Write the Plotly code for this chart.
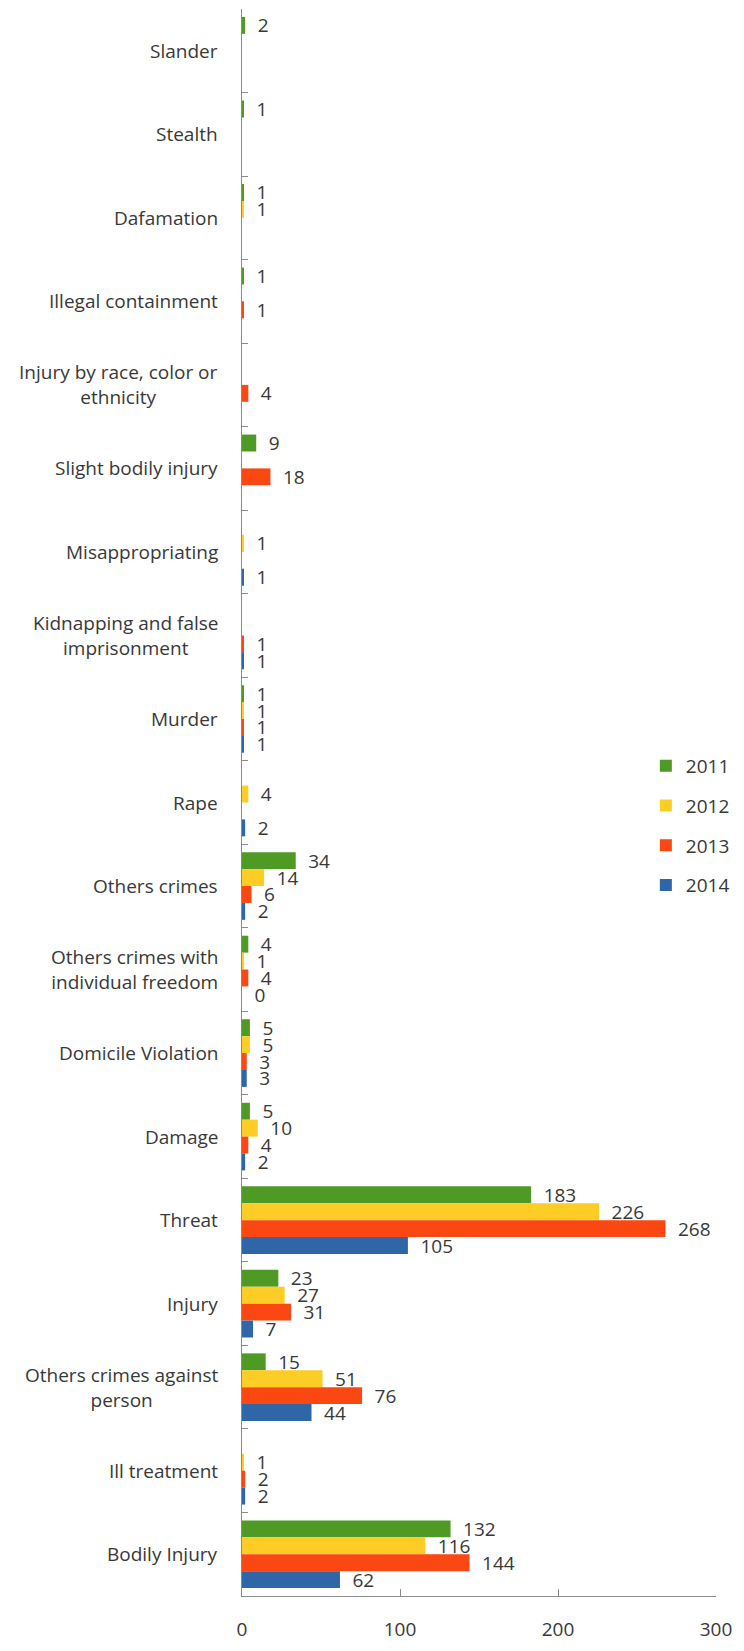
import plotly.graph_objects as go

# Offence categories, listed from the top of the chart to the bottom
categories = [
    "Slander",
    "Stealth",
    "Dafamation",
    "Illegal containment",
    "Injury by race, color or<br>ethnicity",
    "Slight bodily injury",
    "Misappropriating",
    "Kidnapping and false<br>imprisonment",
    "Murder",
    "Rape",
    "Others crimes",
    "Others crimes with<br>individual freedom",
    "Domicile Violation",
    "Damage",
    "Threat",
    "Injury",
    "Others crimes against<br>person",
    "Ill treatment",
    "Bodily Injury",
]

years = ["2011", "2012", "2013", "2014"]

# Number of cases per year (None = no record for that year)
cases_2011 = [2, 1, 1, 1, None, 9, None, None, 1, None, 34, 4, 5, 5, 183, 23, 15, None, 132]
cases_2012 = [None, None, 1, None, None, None, 1, None, 1, 4, 14, 1, 5, 10, 226, 27, 51, 1, 116]
cases_2013 = [None, None, None, 1, 4, 18, None, 1, 1, None, 6, 4, 3, 4, 268, 31, 76, 2, 144]
cases_2014 = [None, None, None, None, None, None, 1, 1, 1, 2, 2, 0, 3, 2, 105, 7, 44, 2, 62]

x_ticks = [0, 100, 200, 300]

series = [cases_2011, cases_2012, cases_2013, cases_2014]
colors = ["#4e9a25", "#fdcd26", "#fb4712", "#2f66a8"]

FONT = "'Open Sans', Lato, sans-serif"
FONT_SIZE = 19
TEXT_COLOR = "#383838"
AXIS_COLOR = "#8c8c8c"

fig = go.Figure()
for year, values, color in zip(years, series, colors):
    fig.add_trace(
        go.Bar(
            name=year,
            legendgroup=year,
            y=categories,
            x=values,
            orientation="h",
            marker=dict(color=color, line=dict(width=0)),
            texttemplate="\u2002%{x}",
            textposition="outside",
            constraintext="none",
            cliponaxis=False,
            textfont=dict(family=FONT, size=FONT_SIZE, color=TEXT_COLOR),
            hoverinfo="skip",
        )
    )

# Category labels, centred line by line like the original axis labels
for cat in categories:
    fig.add_annotation(
        x=0,
        xref="paper",
        xanchor="right",
        xshift=-22,
        y=cat,
        yref="y",
        yanchor="middle",
        text=cat,
        align="center",
        showarrow=False,
        font=dict(family=FONT, size=FONT_SIZE, color=TEXT_COLOR),
    )

fig.update_layout(
    width=744,
    height=1651,
    margin=dict(l=242, r=19, t=9, b=41),
    paper_bgcolor="white",
    plot_bgcolor="white",
    barmode="group",
    bargap=0.19,
    bargroupgap=0,
    font=dict(family=FONT, size=FONT_SIZE, color=TEXT_COLOR),
    showlegend=True,
    legend=dict(
        x=0.852,
        xanchor="left",
        y=0.535,
        yanchor="top",
        traceorder="grouped",
        tracegroupgap=12,
        itemwidth=30,
        bgcolor="rgba(0,0,0,0)",
        font=dict(family=FONT, size=FONT_SIZE, color=TEXT_COLOR),
    ),
    xaxis=dict(
        range=[0, 300],
        tickmode="array",
        tickvals=x_ticks,
        ticktext=[str(v) for v in x_ticks],
        ticks="inside",
        ticklen=7,
        tickcolor=AXIS_COLOR,
        showline=True,
        linecolor=AXIS_COLOR,
        linewidth=1,
        showgrid=False,
        zeroline=False,
        ticklabelstandoff=16,
        tickfont=dict(family=FONT, size=FONT_SIZE, color=TEXT_COLOR),
    ),
    yaxis=dict(
        type="category",
        categoryorder="array",
        categoryarray=categories,
        autorange="reversed",
        showticklabels=False,
        ticks="inside",
        tickson="boundaries",
        ticklen=6,
        tickcolor=AXIS_COLOR,
        showline=True,
        linecolor=AXIS_COLOR,
        linewidth=1,
        showgrid=False,
        zeroline=False,
    ),
)

fig.write_html("out.html")
